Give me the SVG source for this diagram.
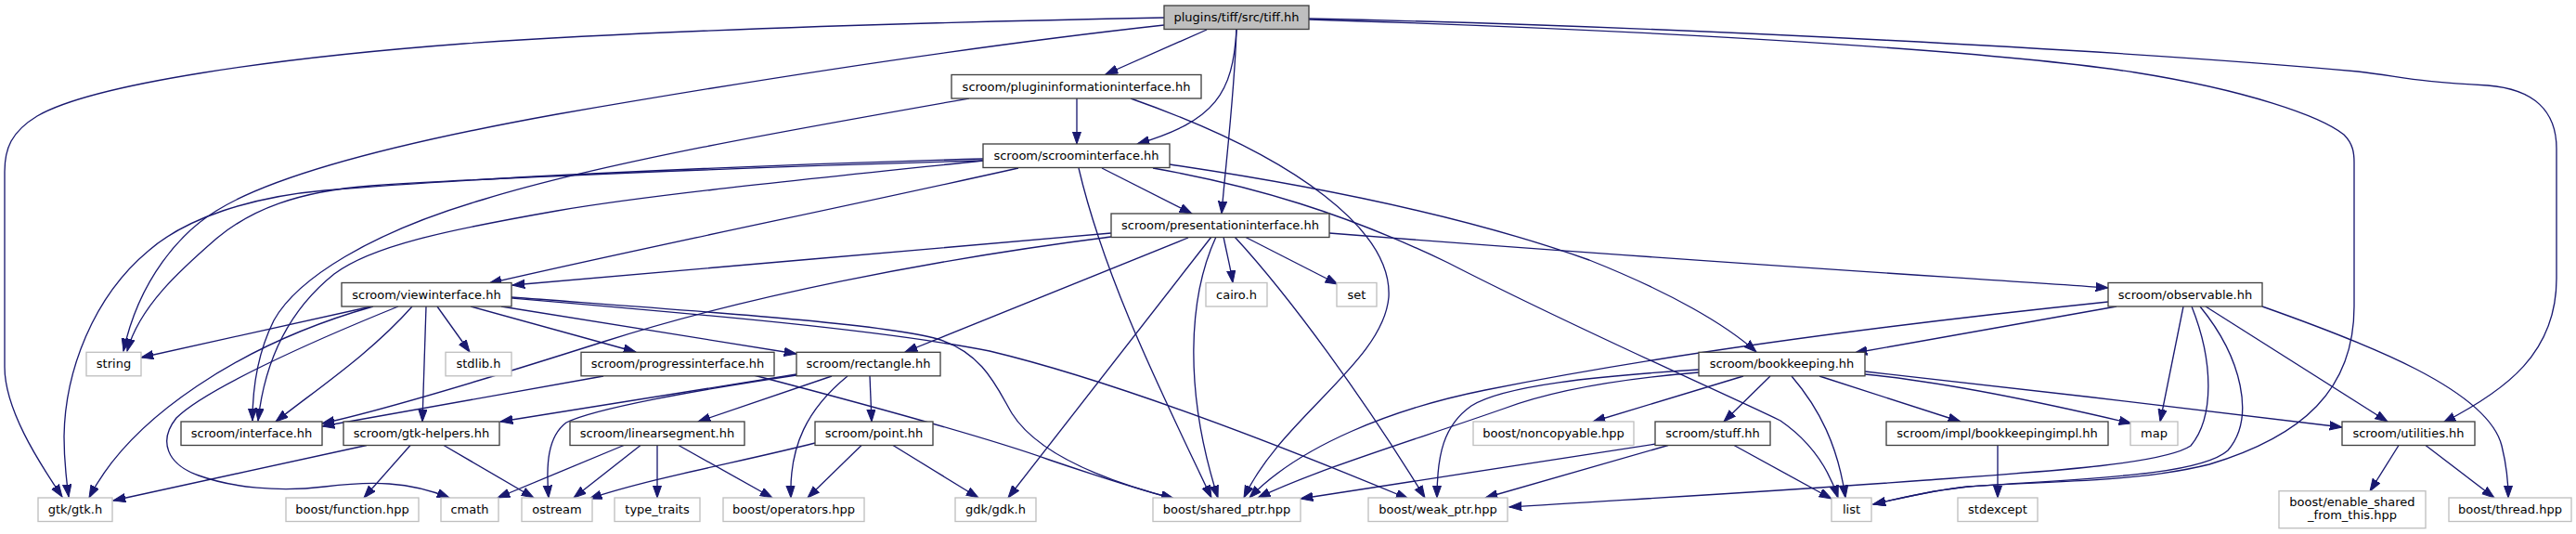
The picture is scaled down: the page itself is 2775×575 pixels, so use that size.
<svg xmlns="http://www.w3.org/2000/svg" width="2775" height="575" viewBox="0 0 2775 575">
<style>
.n rect{fill:#fff;stroke:#404040;stroke-width:1.33}
.x rect{fill:#fff;stroke:#bfbfbf;stroke-width:1.33}
.r rect{fill:#bfbfbf;stroke:#404040;stroke-width:1.33}
text{font-family:"DejaVu Sans",sans-serif;font-size:13px;text-anchor:middle;fill:#000}
#edges path{fill:none;stroke:#191970;stroke-width:1.33;marker-end:url(#ah)}
</style>
<defs>
<marker id="ah" markerUnits="userSpaceOnUse" markerWidth="15" markerHeight="11" refX="13.3" refY="5" orient="auto">
<path d="M0,0.35 L13.3,5 L0,9.65 z" fill="#191970" stroke="#191970" stroke-width="1"/>
</marker>
</defs>
<rect width="2775" height="575" fill="#fff"/>
<g id="edges">
<path d="M1254,19 C1000,24 700,33 500,47 C300,62 100,90 40,125 C12,142 5,160 5,185 L5,395 C5,440 40,495 67,535"/>
<path d="M1254,27 C1000,55 750,97 600,123 C450,150 300,185 233,227 C195,250 150,300 133,378"/>
<path d="M1059,171 C800,178 500,192 350,205 C270,212 200,235 160,270 C100,320 70,400 69,470 C69,500 72,520 74,535"/>
<path d="M1059,173 C800,180 500,193 400,200 C320,206 270,226 233,257 C195,290 150,330 137,378"/>
<path d="M1300,32 L1191,80"/>
<path d="M1160,106 L1160,155"/>
<path d="M1332,32 C1328,100 1310,130 1225,155"/>
<path d="M1332,32 C1330,100 1320,180 1316,230"/>
<path d="M1187,181 L1284,230"/>
<path d="M1044,106 C850,140 650,175 520,215 C400,250 320,300 295,345 C280,375 272,410 272,453"/>
<path d="M1059,173 C850,195 700,210 600,227 C480,248 400,265 360,295 C310,335 285,390 278,453"/>
<path d="M1097,181 C900,225 700,265 527,305"/>
<path d="M1197,251 C1000,268 750,290 552,307"/>
<path d="M1197,255 C1000,280 800,320 650,368 C540,403 420,440 347,456"/>
<path d="M1280,256 L975,379"/>
<path d="M1305,255 L1086,536"/>
<path d="M1310,255 C1280,320 1275,420 1312,536"/>
<path d="M1162,181 C1190,300 1250,420 1305,536"/>
<path d="M1318,255 C1322,275 1326,290 1328,304.5"/>
<path d="M1341,255 L1441,306"/>
<path d="M1330,255 C1390,320 1470,430 1535,536"/>
<path d="M1432,251 C1800,280 2100,298 2271,310"/>
<path d="M1218,106 C1400,170 1500,250 1496,320 C1490,390 1380,450 1340,536"/>
<path d="M400,330 L152,385"/>
<path d="M402,330 C260,370 140,450 96,536"/>
<path d="M429,330 C330,370 220,420 190,450 C170,475 180,500 214,512 C250,525 300,530 350,524 C400,518 440,518 484,536"/>
<path d="M444,330 C400,380 340,420 297,454"/>
<path d="M459,330 L455,454"/>
<path d="M471,330 L506,379"/>
<path d="M507,330 L685,379"/>
<path d="M540,330 L858,381"/>
<path d="M551,320 C750,335 950,348 1010,365 C1060,380 1075,420 1090,445 C1115,485 1180,515 1265,537"/>
<path d="M551,321 C750,338 950,355 1066,378 C1200,410 1380,480 1517,537"/>
<path d="M650,405 L347,459"/>
<path d="M812,404 C950,440 1060,470 1130,495 C1180,512 1220,525 1264,537"/>
<path d="M858,403 L539,454"/>
<path d="M858,404 C750,420 640,440 610,455 C590,470 588,500 591,536"/>
<path d="M896,405 L752,454"/>
<path d="M913,405 C870,440 850,480 852,536"/>
<path d="M937,405 L939,454"/>
<path d="M672,479.5 L536,536"/>
<path d="M690,479.5 L618,536"/>
<path d="M708,479.5 L708,536"/>
<path d="M731,479.5 L832,536"/>
<path d="M878,477 C800,497 700,515 635,537"/>
<path d="M928,479.5 L870,536"/>
<path d="M962,479.5 L1054,536"/>
<path d="M395,479.5 L122,539"/>
<path d="M442,479.5 L392,536"/>
<path d="M478,479.5 L575,536"/>
<path d="M1878,405 L1716,454"/>
<path d="M1907,405 L1857,454"/>
<path d="M1930,405 C1960,440 1980,480 1988,536"/>
<path d="M1960,405 L2112,454"/>
<path d="M1830,398 C1720,405 1620,415 1585,437 C1555,458 1548,490 1548,536"/>
<path d="M1830,401 C1720,410 1660,425 1620,440 C1520,475 1420,505 1355,536"/>
<path d="M2280,330 L1998,380"/>
<path d="M2271,325 C2050,348 1800,380 1600,420 C1500,440 1400,480 1346,536"/>
<path d="M1784,478 L1401,537"/>
<path d="M1797,479.5 L1600,536"/>
<path d="M1868,479.5 L1973,537"/>
<path d="M2152,479.5 L2152,536"/>
<path d="M2009,403 C2100,412 2220,438 2296,456"/>
<path d="M2009,400 C2150,415 2400,445 2523,460"/>
<path d="M2352,330 L2327,454"/>
<path d="M2370,330 C2415,385 2430,450 2400,485 C2370,512 2250,515 2120,524 C2080,528 2050,536 2018,543"/>
<path d="M2361,330 C2385,390 2385,450 2360,480 C2330,500 2200,508 2075,517 C1900,530 1750,538 1626,546"/>
<path d="M1410,21 C1800,33 2150,55 2300,78 C2420,97 2500,125 2525,145 C2535,155 2536,165 2536,175 L2536,330 C2536,420 2480,470 2380,500 C2300,520 2200,518 2120,524 C2080,528 2050,536 2018,543"/>
<path d="M1410,20 C1800,28 2300,55 2540,77 C2590,83 2600,88 2680,92 C2730,96 2754,120 2754,160 L2754,300 C2754,380 2700,420 2632,455"/>
<path d="M2376,330 L2572,454"/>
<path d="M2437,330 C2550,370 2680,420 2695,480 C2700,500 2702,520 2702,536"/>
<path d="M2584,479.5 L2553,529"/>
<path d="M2613,479.5 L2687,536"/>
<path d="M1260,177 C1450,205 1600,240 1712,280 C1800,315 1860,350 1892,379"/>
<path d="M1242,181 C1350,200 1450,230 1560,283 C1700,355 1850,420 1918,453 C1950,475 1970,505 1980,536"/>
</g>
<g id="n_tiff" class="r"><rect x="1254" y="6" width="156" height="25.5"/><text x="1332" y="23">plugins/tiff/src/tiff.hh</text></g>
<g id="n_pluginfo" class="n"><rect x="1025" y="80.5" width="269" height="25.5"/><text x="1159.5" y="97.5">scroom/plugininformationinterface.hh</text></g>
<g id="n_scroom" class="n"><rect x="1059" y="155" width="201" height="25.5"/><text x="1159.5" y="172">scroom/scroominterface.hh</text></g>
<g id="n_pres" class="n"><rect x="1197" y="230" width="235" height="25.5"/><text x="1314.5" y="247">scroom/presentationinterface.hh</text></g>
<g id="n_view" class="n"><rect x="368" y="304.5" width="183" height="25.5"/><text x="459.5" y="321.5">scroom/viewinterface.hh</text></g>
<g id="n_cairo" class="x"><rect x="1299" y="304.5" width="66" height="25.5"/><text x="1332" y="321.5">cairo.h</text></g>
<g id="n_set" class="x"><rect x="1440" y="304.5" width="43" height="25.5"/><text x="1461.5" y="321.5">set</text></g>
<g id="n_obs" class="n"><rect x="2271" y="304.5" width="166" height="25.5"/><text x="2354" y="321.5">scroom/observable.hh</text></g>
<g id="n_string" class="x"><rect x="93" y="379.3" width="59" height="25.5"/><text x="122.5" y="396.3">string</text></g>
<g id="n_stdlib" class="x"><rect x="480" y="379.3" width="71" height="25.5"/><text x="515.5" y="396.3">stdlib.h</text></g>
<g id="n_progress" class="n"><rect x="626" y="379.3" width="208" height="25.5"/><text x="730" y="396.3">scroom/progressinterface.hh</text></g>
<g id="n_rect" class="n"><rect x="858" y="379.3" width="155" height="25.5"/><text x="935.5" y="396.3">scroom/rectangle.hh</text></g>
<g id="n_bk" class="n"><rect x="1830" y="379.3" width="179" height="25.5"/><text x="1919.5" y="396.3">scroom/bookkeeping.hh</text></g>
<g id="n_interface" class="n"><rect x="195" y="454" width="152" height="25.5"/><text x="271" y="471">scroom/interface.hh</text></g>
<g id="n_gtkh" class="n"><rect x="370" y="454" width="168" height="25.5"/><text x="454" y="471">scroom/gtk-helpers.hh</text></g>
<g id="n_linseg" class="n"><rect x="614" y="454" width="188" height="25.5"/><text x="708" y="471">scroom/linearsegment.hh</text></g>
<g id="n_point" class="n"><rect x="878" y="454" width="127" height="25.5"/><text x="941.5" y="471">scroom/point.hh</text></g>
<g id="n_noncopy" class="x"><rect x="1587" y="454" width="173" height="25.5"/><text x="1673.5" y="471">boost/noncopyable.hpp</text></g>
<g id="n_stuff" class="n"><rect x="1783" y="454" width="124" height="25.5"/><text x="1845" y="471">scroom/stuff.hh</text></g>
<g id="n_impl" class="n"><rect x="2032" y="454" width="239" height="25.5"/><text x="2151.5" y="471">scroom/impl/bookkeepingimpl.hh</text></g>
<g id="n_map" class="x"><rect x="2295" y="454" width="51" height="25.5"/><text x="2320.5" y="471">map</text></g>
<g id="n_util" class="n"><rect x="2523" y="454" width="143" height="25.5"/><text x="2594.5" y="471">scroom/utilities.hh</text></g>
<g id="n_gtk" class="x"><rect x="41" y="536" width="80" height="25.5"/><text x="81" y="553">gtk/gtk.h</text></g>
<g id="n_func" class="x"><rect x="308" y="536" width="143" height="25.5"/><text x="379.5" y="553">boost/function.hpp</text></g>
<g id="n_cmath" class="x"><rect x="475" y="536" width="62" height="25.5"/><text x="506" y="553">cmath</text></g>
<g id="n_ostream" class="x"><rect x="562" y="536" width="76" height="25.5"/><text x="600" y="553">ostream</text></g>
<g id="n_typetraits" class="x"><rect x="662" y="536" width="92" height="25.5"/><text x="708" y="553">type_traits</text></g>
<g id="n_ops" class="x"><rect x="779" y="536" width="152" height="25.5"/><text x="855" y="553">boost/operators.hpp</text></g>
<g id="n_gdk" class="x"><rect x="1029" y="536" width="87" height="25.5"/><text x="1072.5" y="553">gdk/gdk.h</text></g>
<g id="n_shared" class="x"><rect x="1242" y="536" width="159" height="25.5"/><text x="1321.5" y="553">boost/shared_ptr.hpp</text></g>
<g id="n_weak" class="x"><rect x="1474" y="536" width="150" height="25.5"/><text x="1549" y="553">boost/weak_ptr.hpp</text></g>
<g id="n_list" class="x"><rect x="1973" y="536" width="43" height="25.5"/><text x="1994.5" y="553">list</text></g>
<g id="n_stdexcept" class="x"><rect x="2109" y="536" width="86" height="25.5"/><text x="2152" y="553">stdexcept</text></g>
<g id="n_enable" class="x"><rect x="2455" y="528.7" width="158" height="40"/><text x="2534" y="544.5">boost/enable_shared</text><text x="2534" y="559">_from_this.hpp</text></g>
<g id="n_thread" class="x"><rect x="2638" y="536" width="132" height="25.5"/><text x="2704" y="553">boost/thread.hpp</text></g>
</svg>
